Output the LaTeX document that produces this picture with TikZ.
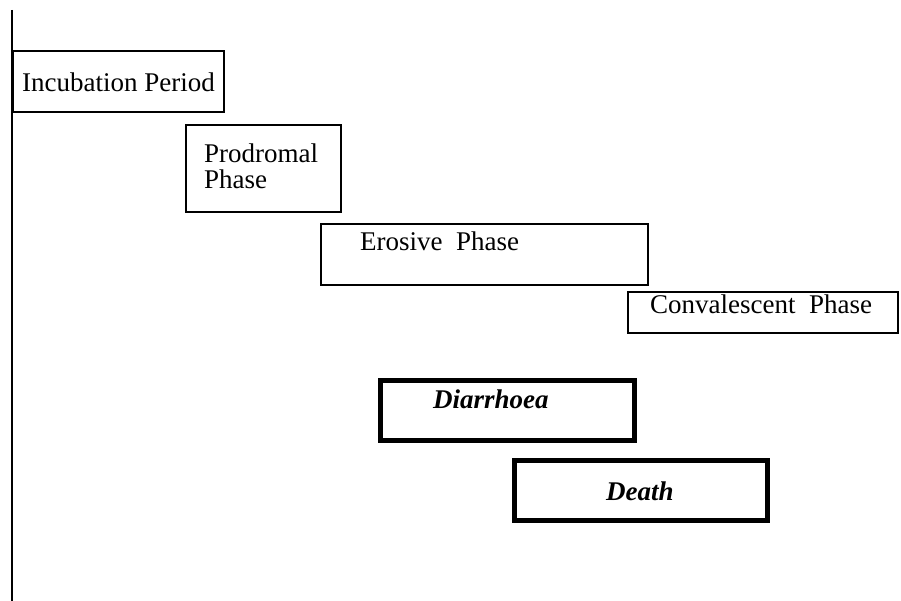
\documentclass[tikz,border=0pt]{standalone}
\usepackage{fontspec}
\setmainfont{Liberation Serif}
\begin{document}
\begin{tikzpicture}[x=1pt,y=-1pt,
  phasebox/.style={draw=black, line width=2pt, anchor=north west, inner sep=0pt},
  outcomebox/.style={draw=black, line width=4.5pt, anchor=north west, inner sep=0pt},
  phasetext/.style={anchor=base west, inner sep=0pt, font=\fontsize{27}{31}\selectfont},
  outcometext/.style={anchor=base west, inner sep=0pt, font=\fontsize{27}{31}\selectfont\bfseries\itshape}]
  \useasboundingbox (0,0) rectangle (901,601);
  % time axis
  \coordinate (axtop) at (12,10);
  \coordinate (axbot) at (12,601);
  \draw[line width=2.6pt] (axtop) -- (axbot);
  % phases
  \node[phasebox, minimum width=211pt, minimum height=61pt] (inc) at (12,50) {};
  \node[phasetext] (incT) at (22,92) {Incubation Period};
  \node[phasebox, minimum width=155pt, minimum height=87pt] (pro) at (185,124) {};
  \node[phasetext] (proT1) at (204,163) {Prodromal};
  \node[phasetext] (proT2) at (204,189) {Phase};
  \node[phasebox, minimum width=327pt, minimum height=61pt] (ero) at (320,223) {};
  \node[phasetext] (eroT) at (360,251) {Erosive\ \ Phase};
  \node[phasebox, minimum width=270pt, minimum height=41pt] (con) at (627,291) {};
  \node[phasetext] (conT) at (650,313) {Convalescent\ \ Phase};
  % outcomes
  \node[outcomebox, minimum width=254pt, minimum height=60pt] (dia) at (378,378) {};
  \node[outcometext] (diaT) at (433,408) {Diarrhoea};
  \node[outcomebox, minimum width=253pt, minimum height=60pt] (dea) at (512,458) {};
  \node[outcometext] (deaT) at (606,500) {Death};
\end{tikzpicture}
\end{document}
